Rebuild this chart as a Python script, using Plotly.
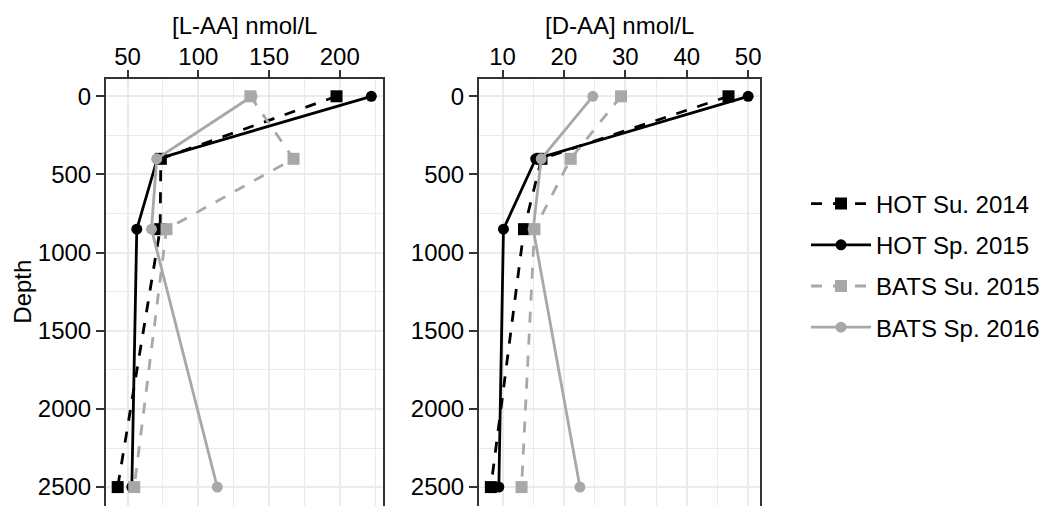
import plotly.graph_objects as go

# Sampling depths (m), shared by every cruise
depth = [0, 400, 850, 2500]

# Cruise labels
cruises = ["HOT Su. 2014", "HOT Sp. 2015", "BATS Su. 2015", "BATS Sp. 2016"]

# L-amino acid concentrations (nmol/L)
l_hot_su_2014 = [197.7, 73.5, 73.0, 43.0]
l_hot_sp_2015 = [222.3, 71.0, 56.5, 53.0]
l_bats_su_2015 = [136.8, 167.3, 77.5, 54.7]
l_bats_sp_2016 = [138.0, 70.6, 66.9, 113.4]

# D-amino acid concentrations (nmol/L)
d_hot_su_2014 = [46.8, 16.35, 13.5, 8.1]
d_hot_sp_2015 = [50.0, 15.4, 10.15, 9.4]
d_bats_su_2015 = [29.3, 21.1, 15.2, 13.1]
d_bats_sp_2016 = [24.7, 16.3, 15.0, 22.6]

l_values = [l_hot_su_2014, l_hot_sp_2015, l_bats_su_2015, l_bats_sp_2016]
d_values = [d_hot_su_2014, d_hot_sp_2015, d_bats_su_2015, d_bats_sp_2016]

BLACK = "#000000"
GREY = "#A8A8A8"
styles = [
    dict(color=BLACK, dash="11px,11px", symbol="square"),
    dict(color=BLACK, dash="solid", symbol="circle"),
    dict(color=GREY, dash="11px,11px", symbol="square"),
    dict(color=GREY, dash="solid", symbol="circle"),
]

FONT = "Liberation Sans, Arial, sans-serif"
FS = 24
TXT = dict(family=FONT, size=FS, color="#000000")

fig = go.Figure()

for name, lv, dv, st in zip(cruises, l_values, d_values, styles):
    for vals, xa, ya, show in ((lv, "x", "y", True), (dv, "x2", "y2", False)):
        fig.add_trace(go.Scatter(
            x=vals, y=depth, name=name, legendgroup=name, showlegend=show,
            xaxis=xa, yaxis=ya, mode="lines+markers",
            line=dict(color=st["color"], width=2.8, dash=st["dash"]),
            marker=dict(color=st["color"], symbol=st["symbol"],
                        size=12 if st["symbol"] == "square" else 11,
                        line=dict(width=0)),
        ))


def padded(vals, frac=0.05):
    flat = [v for s in vals for v in s]
    lo, hi = min(flat), max(flat)
    span = hi - lo
    return [lo - frac * span, hi + frac * span]


GRID = "#EBEBEB"
AXIS_LINE = "#333333"

common_x = dict(
    side="top", showgrid=True, gridcolor=GRID, gridwidth=2,
    ticks="outside", ticklen=7, tickwidth=2, tickcolor=AXIS_LINE,
    tickfont=TXT, zeroline=False, showline=False, ticklabelstandoff=-5,
)
common_y = dict(
    autorange=False, range=[2621, -117], tick0=0, dtick=500,
    showgrid=True, gridcolor=GRID, gridwidth=2,
    ticks="outside", ticklen=8, tickwidth=2, tickcolor=AXIS_LINE,
    tickfont=TXT, zeroline=False, showline=False, domain=[0, 1 - 78 / 506],
    minor=dict(dtick=250, showgrid=True, gridcolor=GRID, gridwidth=1),
)

fig.update_layout(
    width=1055, height=506,
    margin=dict(l=0, r=0, t=0, b=0),
    paper_bgcolor="white", plot_bgcolor="white",
    font=TXT,
    xaxis=dict(common_x, domain=[105 / 1055, 384 / 1055], range=padded(l_values),
               tick0=0, dtick=50, anchor="y",
               minor=dict(dtick=25, showgrid=True, gridcolor=GRID, gridwidth=1)),
    xaxis2=dict(common_x, domain=[478 / 1055, 761 / 1055], range=padded(d_values),
                tick0=0, dtick=10, anchor="y2",
                minor=dict(dtick=5, showgrid=True, gridcolor=GRID, gridwidth=1)),
    yaxis=dict(common_y, anchor="x"),
    yaxis2=dict(common_y, anchor="x2"),
    legend=dict(x=806 / 1055, xanchor="left", y=1 - 265.5 / 506, yanchor="middle",
                font=TXT, tracegroupgap=7, bgcolor="rgba(0,0,0,0)", itemwidth=60),
    showlegend=True,
)

# Axis titles
fig.add_annotation(text="[L-AA] nmol/L", xref="x domain", yref="paper", x=0.5,
                   y=1 - 25 / 506, xanchor="center", yanchor="middle",
                   showarrow=False, font=TXT)
fig.add_annotation(text="[D-AA] nmol/L", xref="x2 domain", yref="paper", x=0.5,
                   y=1 - 25 / 506, xanchor="center", yanchor="middle",
                   showarrow=False, font=TXT)
fig.add_annotation(text="Depth", xref="paper", yref="y domain", x=21.7 / 1055, y=0.5,
                   xanchor="center", yanchor="middle", textangle=-90,
                   showarrow=False, font=TXT)

# Panel borders (bottom edge sits just past the canvas)
for xr, yr in (("x domain", "y domain"), ("x2 domain", "y2 domain")):
    fig.add_shape(type="rect", xref=xr, yref=yr, x0=0, x1=1, y0=-0.02, y1=1,
                  line=dict(color=AXIS_LINE, width=2), fillcolor="rgba(0,0,0,0)",
                  layer="above")

fig.write_html("out.html")
